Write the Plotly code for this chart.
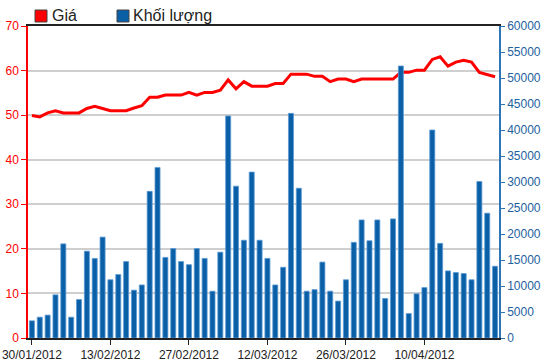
import plotly.graph_objects as go

dates = [
    "30/01/2012", "31/01/2012", "01/02/2012", "02/02/2012", "03/02/2012",
    "06/02/2012", "07/02/2012", "08/02/2012", "09/02/2012", "10/02/2012",
    "13/02/2012", "14/02/2012", "15/02/2012", "16/02/2012", "17/02/2012",
    "20/02/2012", "21/02/2012", "22/02/2012", "23/02/2012", "24/02/2012",
    "27/02/2012", "28/02/2012", "29/02/2012", "01/03/2012", "02/03/2012",
    "05/03/2012", "06/03/2012", "07/03/2012", "08/03/2012", "09/03/2012",
    "12/03/2012", "13/03/2012", "14/03/2012", "15/03/2012", "16/03/2012",
    "19/03/2012", "20/03/2012", "21/03/2012", "22/03/2012", "23/03/2012",
    "26/03/2012", "27/03/2012", "28/03/2012", "29/03/2012", "30/03/2012",
    "03/04/2012", "04/04/2012", "05/04/2012", "06/04/2012", "09/04/2012",
    "10/04/2012", "11/04/2012", "12/04/2012", "13/04/2012", "16/04/2012",
    "17/04/2012", "18/04/2012", "19/04/2012", "20/04/2012", "23/04/2012",
]

price = [
    49.9, 49.6, 50.5, 51.0, 50.5, 50.5, 50.5, 51.5, 52.0, 51.5,
    51.0, 51.0, 51.0, 51.6, 52.1, 54.0, 54.0, 54.5, 54.5, 54.5,
    55.1, 54.5, 55.1, 55.1, 55.6, 57.9, 55.9, 57.5, 56.5, 56.5,
    56.5, 57.1, 57.1, 59.2, 59.2, 59.2, 58.7, 58.7, 57.5, 58.1,
    58.1, 57.5, 58.1, 58.1, 58.1, 58.1, 58.1, 59.6, 59.6, 60.1,
    60.1, 62.5, 63.1, 61.0, 61.9, 62.3, 61.9, 59.6, 59.1, 58.6,
]

volume = [
    3300, 4000, 4400, 8300, 18100, 4000, 7400, 16700, 15300, 19400,
    11200, 12200, 14700, 9200, 10200, 28200, 32800, 15500, 17200, 14700,
    14100, 17200, 15300, 9000, 16500, 42700, 29200, 18800, 31900, 18800,
    15300, 10200, 13600, 43200, 28800, 9000, 9300, 14600, 9000, 7100,
    11200, 18400, 22700, 18700, 22700, 7600, 22900, 52300, 4700, 8500,
    9700, 40000, 18200, 12900, 12600, 12400, 11200, 30100, 24000, 13800,
]

tick_labels = ["30/01/2012", "13/02/2012", "27/02/2012", "12/03/2012",
               "26/03/2012", "10/04/2012"]

legend_names = ["Giá", "Khối lượng"]

RED = "#FF0000"
BLUE = "#0A5FA6"
BLUE_TXT = "#1E5F9E"
FONT = "Liberation Sans, Arial, sans-serif"

fig = go.Figure()
fig.add_trace(go.Bar(
    x=dates, y=volume, yaxis="y2", name=legend_names[1],
    marker=dict(color=BLUE, line=dict(color="#5A9AD6", width=0.8)),
    showlegend=False,
))
fig.add_trace(go.Scatter(
    x=dates, y=price, yaxis="y", name=legend_names[0], mode="lines",
    line=dict(color=RED, width=3), showlegend=False,
))

W, H = 550, 364
ml, mr, mt, mb = 28, 51, 26, 26
pw, ph = W - ml - mr, H - mt - mb


def px(x):
    return (x - ml) / pw


def py(y):
    return (H - mb - y) / ph


shapes = [
    dict(type="rect", xref="paper", yref="paper", x0=px(35), x1=px(47),
         y0=py(22), y1=py(10), fillcolor=RED, line=dict(color="#444", width=1)),
    dict(type="rect", xref="paper", yref="paper", x0=px(117), x1=px(129),
         y0=py(22), y1=py(10), fillcolor=BLUE, line=dict(color="#444", width=1)),
]

annotations = [
    dict(text=legend_names[0], xref="paper", yref="paper", x=px(50), y=py(16),
         xanchor="left", yanchor="middle", showarrow=False,
         font=dict(family=FONT, size=16, color="#222")),
    dict(text=legend_names[1], xref="paper", yref="paper", x=px(131), y=py(16),
         xanchor="left", yanchor="middle", showarrow=False,
         font=dict(family=FONT, size=16, color="#222")),
    dict(text="Khối lượng", xref="paper", yref="paper", x=px(556), y=py(190),
         xanchor="center", yanchor="middle", showarrow=False, textangle=-90,
         font=dict(family=FONT, size=13, color=BLUE_TXT)),
    dict(text="Giá (nghìn đồng)", xref="paper", yref="paper", x=px(-8), y=py(160),
         xanchor="center", yanchor="middle", showarrow=False, textangle=-90,
         font=dict(family=FONT, size=13, color=RED)),
]

fig.update_layout(
    width=W, height=H,
    margin=dict(l=ml, r=mr, t=mt, b=mb, pad=0, autoexpand=False),
    paper_bgcolor="white", plot_bgcolor="white",
    bargap=0.36,
    font=dict(family=FONT, size=12, color="#222"),
    xaxis=dict(
        type="category", range=[-0.5, len(dates) - 0.5], automargin=False,
        tickmode="array", tickvals=tick_labels, ticktext=tick_labels,
        ticks="outside", ticklen=5, tickcolor="#222", tickwidth=1,
        showline=True, linecolor="#222", linewidth=1.5, mirror=True,
        showgrid=False, tickfont=dict(size=12, color="#222"),
    ),
    yaxis=dict(
        range=[0, 70], dtick=10, tick0=0, automargin=False,
        ticks="outside", ticklen=5, tickcolor=RED,
        showline=True, linecolor=RED, linewidth=1.5,
        showgrid=True, gridcolor="#CFCFCF", gridwidth=1.5,
        zeroline=False, tickfont=dict(size=12, color=RED),
    ),
    yaxis2=dict(
        range=[0, 60000], dtick=5000, tick0=0, overlaying="y", side="right",
        tickformat="d", automargin=False,
        ticks="outside", ticklen=4, tickcolor="#2E75B6",
        showline=True, linecolor="#2E75B6", linewidth=1.5,
        showgrid=False, zeroline=False,
        tickfont=dict(size=12, color=BLUE_TXT),
    ),
    shapes=shapes,
    annotations=annotations,
)

fig.write_html("out.html")
